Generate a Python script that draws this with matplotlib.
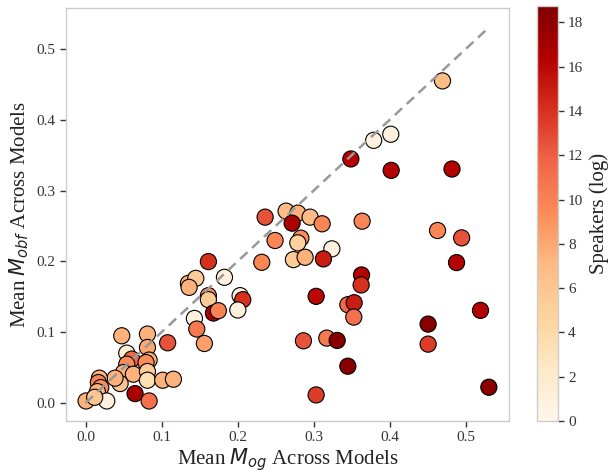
import numpy as np
import matplotlib
matplotlib.use("Agg")
import matplotlib.pyplot as plt

# Mean M_og (x), Mean M_obf (y), Speakers (log) (c)
mean_og = [
    0.4695, 0.379, 0.4015, 0.349, 0.402, 0.482,
    0.2362, 0.2638, 0.2792, 0.2954, 0.2717, 0.3112, 0.3638,
    0.2493, 0.2832, 0.2792, 0.324, 0.463, 0.4947,
    0.2318, 0.2734, 0.2888, 0.3129, 0.488, 0.1616, 0.363, 0.3625,
    0.1353, 0.145, 0.1362, 0.1827, 0.3033, 0.345, 0.3533, 0.3528, 0.5195,
    0.1616, 0.1616, 0.2033, 0.2068, 0.2003, 0.1682, 0.1747, 0.1432, 0.1463, 0.1563,
    0.108, 0.0476, 0.0814, 0.0814, 0.2866, 0.3173, 0.331, 0.4506, 0.4506,
    0.345, 0.5305, 0.3033,
    0.0542, 0.0608, 0.0836, 0.0796, 0.0542, 0.0498, 0.0629, 0.0814, 0.0814,
    0.0454, 0.0388, 0.1015, 0.1156, 0.0651, 0.0836,
    0.0182, 0.0168, 0.02, 0.0155, 0.0279, 0.0007, 0.012,
]
mean_obf = [
    0.455, 0.371, 0.3796, 0.3447, 0.3286, 0.3305,
    0.2625, 0.271, 0.2682, 0.2625, 0.254, 0.2531, 0.2568,
    0.2295, 0.2328, 0.2262, 0.2177, 0.2436, 0.2332,
    0.1987, 0.2025, 0.2058, 0.2035, 0.1983, 0.1997, 0.1808, 0.1667,
    0.169, 0.176, 0.1633, 0.1775, 0.1506, 0.1388, 0.1416, 0.1213, 0.1308,
    0.1516, 0.1459, 0.1516, 0.1459, 0.1313, 0.127, 0.1303, 0.1194, 0.1044, 0.084,
    0.085, 0.0949, 0.0973, 0.0784, 0.0878, 0.0916, 0.0883, 0.1114, 0.0831,
    0.0519, 0.0222, 0.0113,
    0.0704, 0.0619, 0.0605, 0.0571, 0.0548, 0.0429, 0.0406, 0.0444, 0.0321,
    0.0274, 0.035, 0.0321, 0.0335, 0.0132, 0.0028,
    0.035, 0.0288, 0.0217, 0.016, 0.0028, 0.0028, 0.008,
]
speakers_log = [
    7.0, 1.0, 1.0, 16.3, 16.3, 16.3,
    12.5, 7.0, 7.5, 7.0, 16.8, 9.8, 9.8,
    9.8, 9.5, 5.0, 1.0, 9.8, 12.5,
    9.8, 5.5, 7.5, 15.0, 16.3, 14.0, 16.3, 14.0,
    7.5, 5.5, 7.5, 1.0, 16.0, 11.5, 15.0, 11.0, 16.3,
    9.5, 5.5, 1.0, 14.0, 1.0, 16.8, 10.0, 1.0, 10.5, 8.5,
    12.5, 7.5, 7.5, 8.0, 12.5, 10.5, 18.3, 18.3, 13.5,
    18.3, 18.3, 13.5,
    1.5, 11.5, 7.5, 9.5, 9.5, 7.5, 7.5, 5.5, 3.5,
    6.0, 7.5, 7.5, 7.5, 16.8, 11.0,
    7.5, 10.0, 9.5, 7.5, 1.0, 7.5, 6.0,
]

plt.rcParams['font.family'] = ['Liberation Serif', 'DejaVu Serif']
plt.rcParams['mathtext.fontset'] = 'dejavusans'

fig = plt.figure(figsize=(6.09, 4.75), dpi=100)
ax = fig.add_axes([0.1084, 0.1137, 0.7274, 0.8695])
cax = fig.add_axes([0.8818, 0.1137, 0.0338, 0.8737])

x = np.array(mean_og)
y = np.array(mean_obf)
c = np.array(speakers_log)

sc = ax.scatter(x, y, c=c, cmap='OrRd', vmin=0, vmax=18.74, s=135,
                edgecolors='black', linewidths=0.8, zorder=3)
lim = max(x.max(), y.max())
ax.plot([0, lim], [0, lim], ls='--', color='#999999', lw=1.8,
        dashes=(4, 2.5), zorder=4)

ax.set_xlim(-0.0257, 0.557)
ax.set_ylim(-0.0255, 0.558)
ax.set_xticks([0.0, 0.1, 0.2, 0.3, 0.4, 0.5])
ax.set_yticks([0.0, 0.1, 0.2, 0.3, 0.4, 0.5])
for sp in ax.spines.values():
    sp.set_color('#cccccc')
    sp.set_linewidth(1.0)
ax.tick_params(axis='both', labelsize=11, length=4, width=1,
               color='#333333', labelcolor='#333333', direction='out')
ax.set_xlabel('Mean $M_{og}$ Across Models', fontsize=15, color='#222222',
              labelpad=1.5)
ax.set_ylabel('Mean $M_{obf}$ Across Models', fontsize=15, color='#222222')

cb = fig.colorbar(sc, cax=cax)
cb.set_ticks([0, 2, 4, 6, 8, 10, 12, 14, 16, 18])
cb.outline.set_edgecolor('#cccccc')
cb.outline.set_linewidth(1.0)
cax.tick_params(labelsize=11, length=4, width=1, color='#333333',
                labelcolor='#333333')
cb.set_label('Speakers (log)', fontsize=15, color='#222222')

fig.savefig('out.png', dpi=100)
